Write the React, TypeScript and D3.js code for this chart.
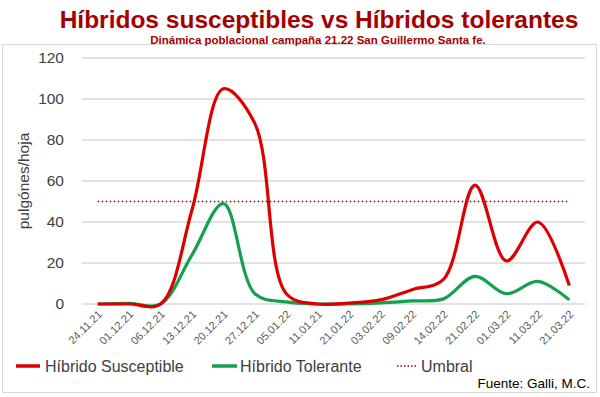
import React from 'react';
import * as d3 from 'd3';

const fechas = [
  '24.11.21', '01.12.21', '06.12.21', '13.12.21', '20.12.21', '27.12.21', '05.01.22', '11.01.21',
  '21.01.22', '03.02.22', '09.02.22', '14.02.22', '21.02.22', '01.03.22', '11.03.22', '21.03.22',
];
const susceptible = [0, 0, 0, 46, 105, 88, 5, 0, 0.5, 2, 7, 12, 58, 21, 40, 9];
const tolerante = [0, 0.3, 0, 24, 49, 5, 1, 0, 0, 0.5, 1.5, 2.5, 13.5, 5, 11, 2];
const umbral = 50;
const yTicks = [0, 20, 40, 60, 80, 100, 120];

const RED = '#dc0000';
const GREEN = '#14a04e';
const DARK_RED = '#a50000';

export default function App() {
  const width = 600;
  const height = 397;
  const margin = { top: 58, right: 15, bottom: 93, left: 82 };
  const innerW = width - margin.left - margin.right;
  const innerH = height - margin.top - margin.bottom;

  const x = d3.scalePoint<string>().domain(fechas).range([0, innerW]).padding(0.5);
  const y = d3.scaleLinear().domain([0, 120]).range([innerH, 0]);

  const line = d3
    .line<number>()
    .x((_, i) => x(fechas[i]) as number)
    .y((d) => y(d))
    .curve(d3.curveCatmullRom.alpha(0.5));

  const font = '"Liberation Sans", Arial, sans-serif';
  const xFirst = x(fechas[0]) as number;
  const xLast = x(fechas[fechas.length - 1]) as number;

  return (
    <svg
      width={width}
      height={height}
      style={{ position: 'absolute', left: 0, top: 0, background: '#fff' }}
      fontFamily={font}
    >
      <rect x={2.5} y={44.5} width={594} height={348} fill="#fff" stroke="#d9d9d9" />
      <text x={319} y={28} textAnchor="middle" fill={DARK_RED} fontSize={24.5} fontWeight="bold">
        Híbridos susceptibles vs Híbridos tolerantes
      </text>
      <text x={318} y={44} textAnchor="middle" fill={DARK_RED} fontSize={11.5} fontWeight="bold">
        Dinámica poblacional campaña 21.22 San Guillermo Santa fe.
      </text>

      <g transform={`translate(${margin.left},${margin.top})`}>
        {yTicks.map((t) => (
          <g key={t}>
            <line x1={0} x2={innerW} y1={y(t)} y2={y(t)} stroke="#d9d9d9" strokeWidth={1.3} />
            <text x={-18} y={y(t)} dy="0.35em" textAnchor="end" fontSize={15.5} fill="#404040">
              {t}
            </text>
          </g>
        ))}
        {fechas.map((f) => (
          <text
            key={f}
            transform={`translate(${(x(f) as number) + 5},${innerH + 11}) rotate(-45)`}
            textAnchor="end"
            fontSize={11}
            fill="#595959"
          >
            {f}
          </text>
        ))}
        <text
          transform={`translate(${-53},${innerH / 2}) rotate(-90)`}
          textAnchor="middle"
          fontSize={15.5}
          fill="#404040"
        >
          pulgónes/hoja
        </text>

        <line
          x1={xFirst}
          x2={xLast}
          y1={y(umbral)}
          y2={y(umbral)}
          stroke={DARK_RED}
          strokeWidth={1.6}
          strokeDasharray="1.6 2.4"
        />
        <path d={line(tolerante) ?? ''} fill="none" stroke={GREEN} strokeWidth={3.2} strokeLinejoin="round" />
        <path d={line(susceptible) ?? ''} fill="none" stroke={RED} strokeWidth={3.2} strokeLinejoin="round" />
      </g>

      <g fontSize={16} fill="#404040">
        <line x1={16} x2={40} y1={366} y2={366} stroke={RED} strokeWidth={3.5} />
        <text x={45} y={366} dy="0.35em" fill="#404040">Híbrido Susceptible</text>
        <line x1={212} x2={237} y1={366} y2={366} stroke={GREEN} strokeWidth={3.5} />
        <text x={240} y={366} dy="0.35em" fill="#404040">Híbrido Tolerante</text>
        <line x1={397} x2={416} y1={366} y2={366} stroke={DARK_RED} strokeWidth={1.5} strokeDasharray="1.5 2" />
        <text x={421} y={366} dy="0.35em" fill="#404040">Umbral</text>
      </g>
      <text x={590} y={388} textAnchor="end" fontSize={13.5} fill="#000">
        Fuente: Galli, M.C.
      </text>
    </svg>
  );
}
